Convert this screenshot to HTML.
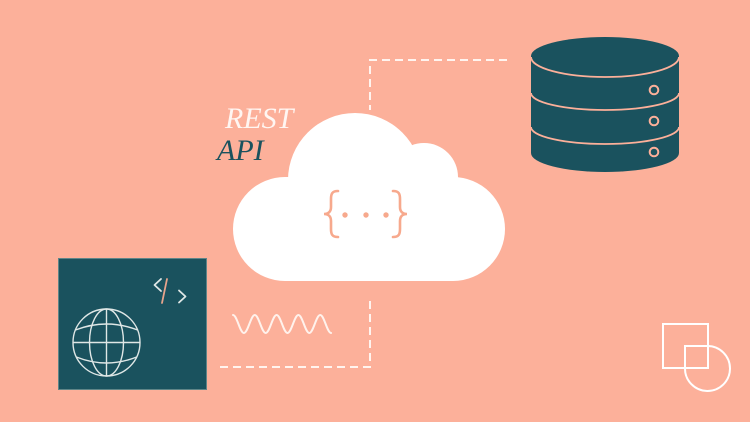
<!DOCTYPE html>
<html><head><meta charset="utf-8"><style>
html,body{margin:0;padding:0;background:#fcb09a;}
svg{display:block;}
</style></head><body>
<svg width="750" height="422" viewBox="0 0 750 422" xmlns="http://www.w3.org/2000/svg">
<rect width="750" height="422" fill="#fcb09a"/>
<!-- dashed connectors -->
<path d="M507 60 H370 V110" fill="none" stroke="#fff4ef" stroke-width="2" stroke-dasharray="8 5"/>
<path d="M220 367 H370 V296" fill="none" stroke="#fff4ef" stroke-width="2" stroke-dasharray="8 5"/>
<!-- cloud -->
<g fill="#ffffff">
<circle cx="285" cy="229" r="52"/>
<circle cx="453" cy="229" r="52"/>
<rect x="285" y="177" width="168" height="104"/>
<circle cx="355" cy="180" r="67"/>
<circle cx="424" cy="177" r="34"/>
</g>
<!-- braces -->
<g fill="none" stroke="#f7a98d" stroke-width="2.6" stroke-linecap="round">
<path d="M338 191 C332 191 331 194 331 199 V207 C331 211 329 214 324 214 C329 214 331 217 331 221 V229 C331 234 332 237 338 237"/>
<path d="M393 191 C399 191 400 194 400 199 V207 C400 211 402 214 407 214 C402 214 400 217 400 221 V229 C400 234 399 237 393 237"/>
</g>
<g fill="#f7a98d">
<circle cx="345" cy="215" r="2.7"/>
<circle cx="366" cy="215" r="2.7"/>
<circle cx="386" cy="215" r="2.7"/>
</g>
<!-- REST API -->
<text x="225" y="128" font-family="Liberation Serif, serif" font-style="italic" font-size="30" fill="#fff6f2">REST</text>
<text x="217" y="160" font-family="Liberation Serif, serif" font-style="italic" font-size="30" fill="#1a525e">API</text>
<!-- database -->
<path d="M531 56 V153 A74 19 0 0 0 679 153 V56 Z" fill="#1a525e"/>
<ellipse cx="605" cy="56" rx="74" ry="19" fill="#1a525e"/>
<g fill="none" stroke="#fcb09a" stroke-width="1.8">
<path d="M531 57 A74 20 0 0 0 679 57"/>
<path d="M531 93 A74 17 0 0 0 679 93"/>
<path d="M531 127 A74 17 0 0 0 679 127"/>
<circle cx="654" cy="90" r="4.3" stroke-width="2"/>
<circle cx="654" cy="121" r="4.3" stroke-width="2"/>
<circle cx="654" cy="152" r="4.3" stroke-width="2"/>
</g>
<!-- teal box -->
<rect x="58.5" y="258.5" width="148" height="131" fill="#1a525e" stroke="#5f8588" stroke-width="1"/>
<!-- globe -->
<g fill="none" stroke="#dfe7e6" stroke-width="1.4">
<circle cx="106.5" cy="342.5" r="33.5"/>
<ellipse cx="106.5" cy="342.5" rx="17" ry="33.5"/>
<line x1="106.5" y1="309" x2="106.5" y2="376"/>
<line x1="73" y1="342.5" x2="140" y2="342.5"/>
<path d="M75.4 330 Q106.5 318 137.6 330"/>
<path d="M76.3 357 Q106.5 369 136.7 357"/>
</g>
<!-- code icon -->
<g fill="none" stroke-width="1.8" stroke-linecap="round" stroke-linejoin="round">
<path d="M161 279 L154.5 285 L161 291" stroke="#dfe7e6"/>
<path d="M167 279 L162 303" stroke="#e8a48c"/>
<path d="M179 290.5 L185.5 296.5 L179 302.5" stroke="#dfe7e6"/>
</g>
<!-- wave -->
<path d="M233 315 C237 315 239.9 333 243.9 333 S250.8 315 254.8 315 S261.7 333 265.7 333 S272.6 315 276.6 315 S283.5 333 287.5 333 S294.4 315 298.4 315 S305.3 333 309.3 333 S316.2 315 320.2 315 S327.1 333 331.1 333" fill="none" stroke="#fff2ec" stroke-width="2" stroke-linecap="round"/>
<!-- square & circle -->
<g fill="none" stroke="#ffffff" stroke-width="2">
<rect x="663" y="324" width="45" height="44"/>
<path d="M685 368 V346 H707.5 A22.5 22.5 0 1 1 685 368"/>
</g>
</svg>
</body></html>
